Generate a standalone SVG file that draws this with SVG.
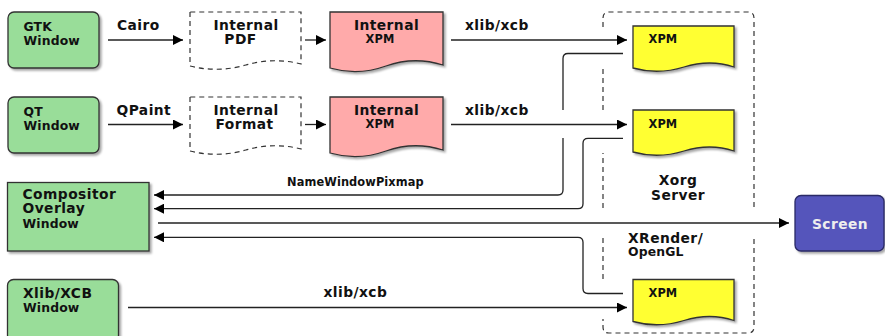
<svg xmlns="http://www.w3.org/2000/svg" width="885" height="336" viewBox="0 0 885 336">
<style>
text{font-family:"DejaVu Sans","Verdana",sans-serif;font-weight:bold;fill:#111}
.big{font-size:13.8px;letter-spacing:0.45px}
.mid{font-size:12.4px;letter-spacing:0.15px}
.sml{font-size:11.4px;letter-spacing:0.1px}
.box{stroke:#333;stroke-width:1.3}
.green{fill:#99dd99}
.pink{fill:#ffaaaa}
.yellow{fill:#ffff33}
.dash{fill:none;stroke:#333;stroke-width:1.2;stroke-dasharray:5 4}
.ln{fill:none;stroke:#222;stroke-width:1.3}
</style>
<defs>
<filter id="sh" x="-10%" y="-10%" width="130%" height="140%">
<feDropShadow dx="2" dy="2" stdDeviation="1.3" flood-color="#000" flood-opacity="0.35"/>
</filter>
<marker id="ah" markerUnits="userSpaceOnUse" viewBox="0 0 10 10" markerWidth="10" markerHeight="10" refX="10" refY="5" orient="auto">
<path d="M0,0 L10,5 L0,10 z" fill="#000"/>
</marker>
</defs>

<g id="xorg-server">
<path class="dash" d="M603,27 V18 Q603,12 609,12 H748 Q754,12 754,18 V209 M754,239 V327 Q754,333 748,333 H609 Q603,333 603,327 V319 M603,279 V236 M603,208 V153 M603,110 V67"/>
<text class="big" x="678" y="185" text-anchor="middle">Xorg</text>
<text class="big" x="678" y="199.6" text-anchor="middle">Server</text>
<text class="big" x="628" y="242.5">XRender/</text>
<text class="mid" x="628" y="256">OpenGL</text>
</g>

<g id="gtk-window">
<rect class="box green" x="8" y="12" width="91" height="56" rx="6" filter="url(#sh)"/>
<text class="mid" x="23.5" y="30.5">GTK</text>
<text class="mid" x="23.5" y="45">Window</text>
</g>

<g id="qt-window">
<rect class="box green" x="8" y="97" width="91" height="56" rx="6" filter="url(#sh)"/>
<text class="mid" x="23.5" y="115.5">QT</text>
<text class="mid" x="23.5" y="130">Window</text>
</g>

<g id="internal-pdf">
<path class="dash" d="M190,12 V66 Q218,73 246,65 T301,64 V12 Z"/>
<text class="big" x="246" y="29.5" text-anchor="middle">Internal</text>
<text class="big" x="240.5" y="44.1" text-anchor="middle">PDF</text>
</g>

<g id="internal-format">
<path class="dash" d="M190,97 V151 Q218,158 246,150 T301,149 V97 Z"/>
<text class="big" x="246" y="114.5" text-anchor="middle">Internal</text>
<text class="big" x="244.5" y="129.2" text-anchor="middle">Format</text>
</g>

<g id="internal-xpm-1">
<path class="box pink" d="M330,12 V68 Q358,76 386,66 T443,65 V12 Z" filter="url(#sh)"/>
<text class="big" x="386.5" y="29.5" text-anchor="middle">Internal</text>
<text class="sml" x="380" y="42.5" text-anchor="middle">XPM</text>
</g>

<g id="internal-xpm-2">
<path class="box pink" d="M330,97 V153 Q358,161 386,151 T443,150 V97 Z" filter="url(#sh)"/>
<text class="big" x="386.5" y="114.5" text-anchor="middle">Internal</text>
<text class="sml" x="380" y="128" text-anchor="middle">XPM</text>
</g>

<g id="xpm-1">
<path class="box yellow" d="M633,26 V68 Q658,75 684,67 T734,67 V26 Z" filter="url(#sh)"/>
<text class="sml" x="648.5" y="43.3">XPM</text>
</g>

<g id="xpm-2">
<path class="box yellow" d="M633,110 V152 Q658,159 684,151 T734,151 V110 Z" filter="url(#sh)"/>
<text class="sml" x="648.5" y="128.3">XPM</text>
</g>

<g id="xpm-3">
<path class="box yellow" d="M633,279.5 V321.5 Q658,328.5 684,320.5 T734,320.5 V279.5 Z" filter="url(#sh)"/>
<text class="sml" x="648.5" y="297">XPM</text>
</g>

<g id="compositor-overlay-window">
<rect class="box green" x="7.5" y="182.5" width="141.5" height="68.5" filter="url(#sh)"/>
<text class="big" x="22.5" y="198.6">Compositor</text>
<text class="big" x="22.5" y="213.3">Overlay</text>
<text class="mid" x="22.5" y="227.6">Window</text>
</g>

<g id="xlib-xcb-window">
<rect class="box green" x="7.5" y="279.5" width="111" height="62" rx="6" filter="url(#sh)"/>
<text class="big" x="23" y="297.7">Xlib/XCB</text>
<text class="mid" x="23" y="311.5">Window</text>
</g>

<g id="screen">
<rect x="795" y="195.5" width="89" height="55.5" rx="6" fill="#5555bb" stroke="#2a2a66" stroke-width="1.3" filter="url(#sh)"/>
<text class="big" x="840" y="228.5" text-anchor="middle" style="fill:#eeeeee">Screen</text>
</g>

<g id="connectors">
<path class="ln" d="M108,40 H183" marker-end="url(#ah)"/>
<text class="big" x="117" y="30">Cairo</text>
<path class="ln" d="M305,40 H326" marker-end="url(#ah)"/>
<path class="ln" d="M451,40 H627" marker-end="url(#ah)"/>
<text class="big" x="465" y="30">xlib/xcb</text>

<path class="ln" d="M108,124.5 H183" marker-end="url(#ah)"/>
<text class="big" x="116.5" y="115">QPaint</text>
<path class="ln" d="M305,124.5 H326" marker-end="url(#ah)"/>
<path class="ln" d="M451,124.5 H627" marker-end="url(#ah)"/>
<text class="big" x="465" y="115">xlib/xcb</text>

<path class="ln" d="M623,53.5 H568 Q563,53.5 563,58.5 V110 M563,138 V190 Q563,195 558,195 H154" marker-end="url(#ah)"/>
<text class="sml" x="287" y="186">NameWindowPixmap</text>
<path class="ln" d="M623,138.3 H588 Q583,138.3 583,143.3 V203.7 Q583,208.7 578,208.7 H154" marker-end="url(#ah)"/>
<path class="ln" d="M158,223 H789" marker-end="url(#ah)"/>
<path class="ln" d="M623,293.5 H588 Q583,293.5 583,288.5 V242.3 Q583,237.3 578,237.3 H154" marker-end="url(#ah)"/>

<path class="ln" d="M128,307.5 H627" marker-end="url(#ah)"/>
<text class="big" x="323.5" y="297">xlib/xcb</text>
</g>
</svg>
